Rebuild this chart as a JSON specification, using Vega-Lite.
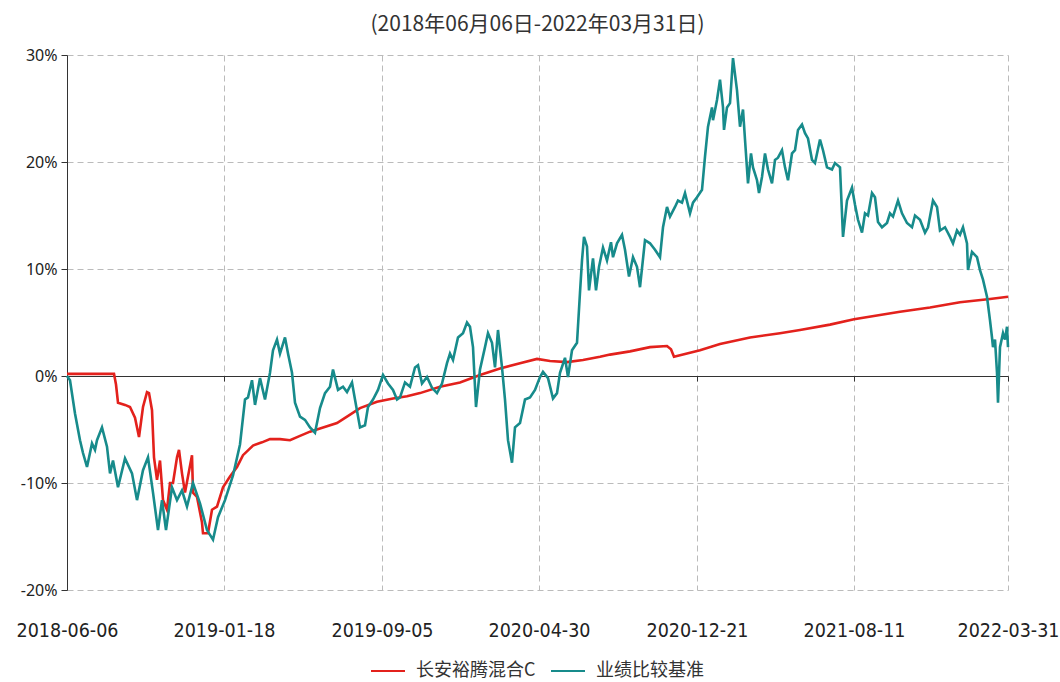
{
  "$schema": "https://vega.github.io/schema/vega-lite/v6.json",
  "width": 941,
  "height": 535,
  "autosize": {"type": "none"},
  "padding": {"left": 67, "top": 55, "right": 52, "bottom": 92},
  "background": "white",
  "title": {"text": "(2018年06月06日-2022年03月31日)", "font": "Noto Sans CJK SC", "fontSize": 21, "fontWeight": "normal", "color": "#333333", "offset": 12, "anchor": "middle"},
  "config": {"view": {"stroke": null}},
  "datasets": {
    "fund": [
      {"day": 0, "value": 0.002}, {"day": 13, "value": 0.002}, {"day": 33, "value": 0.002}, {"day": 47, "value": 0.002},
      {"day": 49, "value": -0.008}, {"day": 51, "value": -0.025}, {"day": 58, "value": -0.027}, {"day": 63, "value": -0.029},
      {"day": 68, "value": -0.039}, {"day": 72, "value": -0.057}, {"day": 76, "value": -0.029}, {"day": 80, "value": -0.015},
      {"day": 82, "value": -0.016}, {"day": 85, "value": -0.032}, {"day": 87, "value": -0.076}, {"day": 90, "value": -0.097},
      {"day": 93, "value": -0.079}, {"day": 96, "value": -0.116}, {"day": 100, "value": -0.125}, {"day": 103, "value": -0.100},
      {"day": 106, "value": -0.100}, {"day": 110, "value": -0.076}, {"day": 112, "value": -0.069}, {"day": 115, "value": -0.091},
      {"day": 118, "value": -0.109}, {"day": 121, "value": -0.094}, {"day": 125, "value": -0.074}, {"day": 126, "value": -0.109},
      {"day": 130, "value": -0.113}, {"day": 135, "value": -0.137}, {"day": 136, "value": -0.147}, {"day": 141, "value": -0.147},
      {"day": 145, "value": -0.125}, {"day": 150, "value": -0.122}, {"day": 156, "value": -0.104}, {"day": 163, "value": -0.094},
      {"day": 170, "value": -0.085}, {"day": 176, "value": -0.074}, {"day": 186, "value": -0.065}, {"day": 195, "value": -0.062},
      {"day": 203, "value": -0.059}, {"day": 213, "value": -0.059}, {"day": 223, "value": -0.060}, {"day": 233, "value": -0.056},
      {"day": 243, "value": -0.052}, {"day": 253, "value": -0.049}, {"day": 270, "value": -0.044}, {"day": 280, "value": -0.038},
      {"day": 293, "value": -0.030}, {"day": 310, "value": -0.024}, {"day": 326, "value": -0.021}, {"day": 340, "value": -0.019},
      {"day": 353, "value": -0.016}, {"day": 373, "value": -0.010}, {"day": 393, "value": -0.006}, {"day": 413, "value": 0.001},
      {"day": 433, "value": 0.007}, {"day": 453, "value": 0.012}, {"day": 470, "value": 0.016}, {"day": 483, "value": 0.014},
      {"day": 500, "value": 0.013}, {"day": 516, "value": 0.015}, {"day": 533, "value": 0.018}, {"day": 543, "value": 0.020},
      {"day": 563, "value": 0.023}, {"day": 583, "value": 0.027}, {"day": 600, "value": 0.028}, {"day": 604, "value": 0.025},
      {"day": 607, "value": 0.018}, {"day": 620, "value": 0.021}, {"day": 633, "value": 0.024}, {"day": 653, "value": 0.030},
      {"day": 683, "value": 0.036}, {"day": 713, "value": 0.040}, {"day": 733, "value": 0.043}, {"day": 763, "value": 0.048},
      {"day": 787, "value": 0.053}, {"day": 813, "value": 0.057}, {"day": 833, "value": 0.060}, {"day": 863, "value": 0.064},
      {"day": 893, "value": 0.069}, {"day": 923, "value": 0.072}, {"day": 941, "value": 0.074}
    ],
    "bench": [
      {"day": 0, "value": 0.000}, {"day": 3, "value": -0.004}, {"day": 8, "value": -0.035}, {"day": 13, "value": -0.060},
      {"day": 16, "value": -0.072}, {"day": 20, "value": -0.085}, {"day": 25, "value": -0.063}, {"day": 28, "value": -0.069},
      {"day": 30, "value": -0.060}, {"day": 35, "value": -0.048}, {"day": 40, "value": -0.066}, {"day": 43, "value": -0.091},
      {"day": 46, "value": -0.079}, {"day": 51, "value": -0.104}, {"day": 58, "value": -0.077}, {"day": 65, "value": -0.091},
      {"day": 70, "value": -0.116}, {"day": 76, "value": -0.088}, {"day": 81, "value": -0.076}, {"day": 86, "value": -0.109},
      {"day": 91, "value": -0.144}, {"day": 95, "value": -0.116}, {"day": 99, "value": -0.144}, {"day": 105, "value": -0.104},
      {"day": 110, "value": -0.116}, {"day": 115, "value": -0.107}, {"day": 120, "value": -0.122}, {"day": 126, "value": -0.100},
      {"day": 133, "value": -0.119}, {"day": 140, "value": -0.144}, {"day": 146, "value": -0.153}, {"day": 151, "value": -0.132},
      {"day": 158, "value": -0.116}, {"day": 166, "value": -0.093}, {"day": 173, "value": -0.064}, {"day": 178, "value": -0.022},
      {"day": 181, "value": -0.020}, {"day": 185, "value": -0.004}, {"day": 188, "value": -0.027}, {"day": 193, "value": -0.002},
      {"day": 198, "value": -0.022}, {"day": 203, "value": 0.003}, {"day": 206, "value": 0.024}, {"day": 210, "value": 0.034},
      {"day": 213, "value": 0.021}, {"day": 218, "value": 0.036}, {"day": 221, "value": 0.021}, {"day": 225, "value": 0.003},
      {"day": 228, "value": -0.025}, {"day": 233, "value": -0.038}, {"day": 238, "value": -0.041}, {"day": 243, "value": -0.048},
      {"day": 248, "value": -0.053}, {"day": 253, "value": -0.030}, {"day": 258, "value": -0.016}, {"day": 263, "value": -0.010},
      {"day": 266, "value": 0.006}, {"day": 271, "value": -0.013}, {"day": 276, "value": -0.010}, {"day": 280, "value": -0.015},
      {"day": 285, "value": -0.006}, {"day": 288, "value": -0.022}, {"day": 293, "value": -0.048}, {"day": 298, "value": -0.046},
      {"day": 301, "value": -0.029}, {"day": 306, "value": -0.022}, {"day": 311, "value": -0.013}, {"day": 316, "value": 0.001},
      {"day": 321, "value": -0.007}, {"day": 326, "value": -0.013}, {"day": 330, "value": -0.022}, {"day": 333, "value": -0.020},
      {"day": 338, "value": -0.006}, {"day": 343, "value": -0.010}, {"day": 348, "value": 0.008}, {"day": 351, "value": 0.010},
      {"day": 355, "value": -0.007}, {"day": 360, "value": -0.001}, {"day": 365, "value": -0.011}, {"day": 370, "value": -0.016},
      {"day": 375, "value": -0.007}, {"day": 380, "value": 0.012}, {"day": 383, "value": 0.021}, {"day": 386, "value": 0.015},
      {"day": 391, "value": 0.036}, {"day": 396, "value": 0.040}, {"day": 400, "value": 0.050}, {"day": 403, "value": 0.046},
      {"day": 406, "value": 0.027}, {"day": 409, "value": -0.029}, {"day": 413, "value": 0.006}, {"day": 418, "value": 0.027},
      {"day": 421, "value": 0.040}, {"day": 425, "value": 0.031}, {"day": 428, "value": 0.008}, {"day": 431, "value": 0.043},
      {"day": 435, "value": 0.008}, {"day": 438, "value": -0.022}, {"day": 441, "value": -0.060}, {"day": 445, "value": -0.081},
      {"day": 448, "value": -0.048}, {"day": 453, "value": -0.044}, {"day": 458, "value": -0.022}, {"day": 463, "value": -0.020},
      {"day": 468, "value": -0.013}, {"day": 473, "value": -0.001}, {"day": 476, "value": 0.004}, {"day": 481, "value": -0.002},
      {"day": 486, "value": -0.021}, {"day": 490, "value": -0.016}, {"day": 493, "value": 0.003}, {"day": 498, "value": 0.017},
      {"day": 501, "value": -0.001}, {"day": 505, "value": 0.024}, {"day": 510, "value": 0.031}, {"day": 513, "value": 0.078},
      {"day": 515, "value": 0.108}, {"day": 517, "value": 0.130}, {"day": 520, "value": 0.121}, {"day": 522, "value": 0.080},
      {"day": 526, "value": 0.110}, {"day": 529, "value": 0.080}, {"day": 532, "value": 0.102}, {"day": 536, "value": 0.120},
      {"day": 540, "value": 0.108}, {"day": 544, "value": 0.125}, {"day": 546, "value": 0.111}, {"day": 550, "value": 0.124},
      {"day": 555, "value": 0.132}, {"day": 558, "value": 0.118}, {"day": 562, "value": 0.093}, {"day": 566, "value": 0.111},
      {"day": 570, "value": 0.102}, {"day": 573, "value": 0.083}, {"day": 578, "value": 0.127}, {"day": 583, "value": 0.124},
      {"day": 588, "value": 0.118}, {"day": 593, "value": 0.111}, {"day": 596, "value": 0.139}, {"day": 600, "value": 0.158},
      {"day": 603, "value": 0.149}, {"day": 608, "value": 0.158}, {"day": 611, "value": 0.164}, {"day": 615, "value": 0.162},
      {"day": 618, "value": 0.171}, {"day": 623, "value": 0.152}, {"day": 626, "value": 0.162}, {"day": 630, "value": 0.167},
      {"day": 635, "value": 0.174}, {"day": 638, "value": 0.205}, {"day": 641, "value": 0.233}, {"day": 645, "value": 0.251},
      {"day": 646, "value": 0.239}, {"day": 650, "value": 0.258}, {"day": 653, "value": 0.277}, {"day": 656, "value": 0.251},
      {"day": 657, "value": 0.230}, {"day": 660, "value": 0.251}, {"day": 663, "value": 0.255}, {"day": 666, "value": 0.297},
      {"day": 670, "value": 0.267}, {"day": 673, "value": 0.233}, {"day": 676, "value": 0.249}, {"day": 678, "value": 0.221},
      {"day": 681, "value": 0.180}, {"day": 684, "value": 0.208}, {"day": 686, "value": 0.195}, {"day": 690, "value": 0.183},
      {"day": 692, "value": 0.171}, {"day": 695, "value": 0.186}, {"day": 698, "value": 0.208}, {"day": 701, "value": 0.193},
      {"day": 705, "value": 0.180}, {"day": 708, "value": 0.202}, {"day": 711, "value": 0.204}, {"day": 715, "value": 0.211},
      {"day": 718, "value": 0.195}, {"day": 721, "value": 0.183}, {"day": 725, "value": 0.208}, {"day": 728, "value": 0.211},
      {"day": 731, "value": 0.230}, {"day": 735, "value": 0.235}, {"day": 738, "value": 0.227}, {"day": 741, "value": 0.222},
      {"day": 745, "value": 0.202}, {"day": 748, "value": 0.199}, {"day": 753, "value": 0.221}, {"day": 756, "value": 0.211},
      {"day": 760, "value": 0.195}, {"day": 765, "value": 0.193}, {"day": 768, "value": 0.199}, {"day": 773, "value": 0.195},
      {"day": 776, "value": 0.130}, {"day": 780, "value": 0.164}, {"day": 785, "value": 0.176}, {"day": 788, "value": 0.160},
      {"day": 791, "value": 0.146}, {"day": 795, "value": 0.134}, {"day": 798, "value": 0.152}, {"day": 801, "value": 0.150},
      {"day": 805, "value": 0.171}, {"day": 808, "value": 0.167}, {"day": 811, "value": 0.144}, {"day": 815, "value": 0.139},
      {"day": 820, "value": 0.143}, {"day": 823, "value": 0.152}, {"day": 826, "value": 0.149}, {"day": 831, "value": 0.164},
      {"day": 835, "value": 0.152}, {"day": 840, "value": 0.143}, {"day": 845, "value": 0.139}, {"day": 848, "value": 0.150},
      {"day": 853, "value": 0.146}, {"day": 858, "value": 0.134}, {"day": 861, "value": 0.139}, {"day": 866, "value": 0.164},
      {"day": 870, "value": 0.158}, {"day": 873, "value": 0.136}, {"day": 878, "value": 0.139}, {"day": 883, "value": 0.130},
      {"day": 886, "value": 0.124}, {"day": 890, "value": 0.136}, {"day": 893, "value": 0.132}, {"day": 896, "value": 0.139},
      {"day": 900, "value": 0.124}, {"day": 901, "value": 0.099}, {"day": 905, "value": 0.116}, {"day": 910, "value": 0.111},
      {"day": 913, "value": 0.099}, {"day": 916, "value": 0.090}, {"day": 920, "value": 0.074}, {"day": 923, "value": 0.052},
      {"day": 925, "value": 0.036}, {"day": 926, "value": 0.027}, {"day": 928, "value": 0.034}, {"day": 930, "value": 0.003},
      {"day": 931, "value": -0.025}, {"day": 933, "value": 0.027}, {"day": 936, "value": 0.040}, {"day": 938, "value": 0.034},
      {"day": 940, "value": 0.046}, {"day": 941, "value": 0.027}
    ]
  },
  "layer": [
    {
      "data": {"name": "fund"},
      "transform": [{"calculate": "'长安裕腾混合C'", "as": "series"}],
      "mark": {"type": "line", "strokeWidth": 2.6},
      "encoding": {
        "x": {"field": "day", "type": "quantitative"},
        "y": {"field": "value", "type": "quantitative"},
        "color": {"field": "series", "type": "nominal"}
      }
    },
    {
      "data": {"name": "bench"},
      "transform": [{"calculate": "'业绩比较基准'", "as": "series"}],
      "mark": {"type": "line", "strokeWidth": 2.6},
      "encoding": {
        "x": {
          "field": "day", "type": "quantitative", "title": null,
          "scale": {"domain": [0, 941], "nice": false, "zero": false},
          "axis": {
            "values": [0, 157, 315, 472, 630, 787, 941],
            "labelExpr": "datum.value == 0 ? '2018-06-06' : datum.value == 157 ? '2019-01-18' : datum.value == 315 ? '2019-09-05' : datum.value == 472 ? '2020-04-30' : datum.value == 630 ? '2020-12-21' : datum.value == 787 ? '2021-08-11' : '2022-03-31'",
            "offset": -214,
            "labelPadding": 240,
            "labelFont": "Liberation Sans Narrow, DejaVu Sans Condensed, sans-serif",
            "labelFontSize": 19.5,
            "labelColor": "#222222",
            "labelFlush": false,
            "labelOverlap": false,
            "labelBound": false,
            "domain": true, "domainColor": "#333333", "domainWidth": 1,
            "ticks": true, "tickColor": "#333333", "tickSize": 5,
            "grid": true, "gridColor": "#bbbbbb", "gridDash": [6, 4], "gridWidth": 1
          }
        },
        "y": {
          "field": "value", "type": "quantitative", "title": null,
          "scale": {"domain": [-0.2, 0.3], "nice": false, "zero": false},
          "axis": {
            "values": [-0.2, -0.1, 0, 0.1, 0.2, 0.3],
            "labelExpr": "round(datum.value * 100) + '%'",
            "labelFont": "Noto Sans",
            "labelFontSize": 16,
            "labelColor": "#222222",
            "labelPadding": 4,
            "domain": true, "domainColor": "#333333", "domainWidth": 1,
            "ticks": true, "tickColor": "#333333", "tickSize": 6,
            "grid": true, "gridColor": "#bbbbbb", "gridDash": [6, 4], "gridWidth": 1
          }
        },
        "color": {
          "field": "series", "type": "nominal",
          "scale": {"domain": ["长安裕腾混合C", "业绩比较基准"], "range": ["#e3211c", "#178b8b"]},
          "legend": {
            "title": null, "orient": "none", "legendX": 303, "legendY": 598, "direction": "horizontal",
            "symbolType": "stroke", "symbolSize": 1156, "symbolStrokeWidth": 2,
            "labelFont": "Noto Sans CJK SC", "labelFontSize": 18, "labelColor": "#333333",
            "labelOffset": 10, "columnPadding": 11
          }
        }
      }
    }
  ]
}
